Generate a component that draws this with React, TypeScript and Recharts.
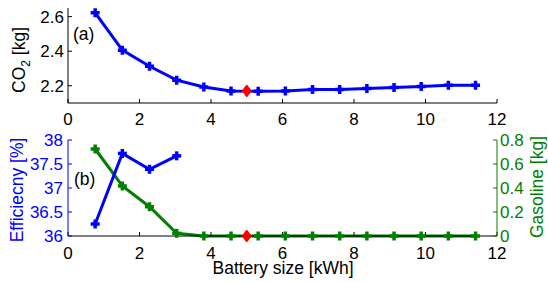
import React from 'react';
import { ComposedChart, Line, Scatter, XAxis, YAxis } from 'recharts';

const batterySize = [0.76, 1.52, 2.28, 3.04, 3.8, 4.56, 5.32, 6.08, 6.84, 7.6, 8.36, 9.12, 9.88, 10.64, 11.4];
const co2 = [2.622, 2.406, 2.313, 2.232, 2.193, 2.17, 2.168, 2.17, 2.178, 2.178, 2.184, 2.19, 2.195, 2.203, 2.203];
const efficiency: (number | null)[] = [36.25, 37.72, 37.39, 37.67, null, null, null, null, null, null, null, null, null, null, null];
const gasoline = [0.725, 0.417, 0.244, 0.022, 0, 0, 0, 0, 0, 0, 0, 0, 0, 0, 0];
const optimumX = [5.0];
const optimumCo2 = [2.17];
const optimumGas = [0];
const xTicks = [0, 2, 4, 6, 8, 10, 12];
const co2Ticks = [2.2, 2.4, 2.6];
const effTicks = [36, 36.5, 37, 37.5, 38];
const gasTicks = [0, 0.2, 0.4, 0.6, 0.8];

const topData = batterySize.map((x, i) => ({ x, co2: co2[i] }));
const bottomData = batterySize.map((x, i) => ({ x, eff: efficiency[i], gas: gasoline[i] }));
const topOpt = optimumX.map((x, i) => ({ x, co2: optimumCo2[i] }));
const bottomOpt = optimumX.map((x, i) => ({ x, gas: optimumGas[i] }));

const BLUE = '#0000FF';
const GREEN = '#008000';
const RED = '#FF0000';
const FONT = '"Liberation Sans", Arial, sans-serif';

const makePlus = (color: string) => (props: any) => {
  const { cx, cy, index, value } = props;
  if (cx == null || cy == null || value == null || (Array.isArray(value) && value[1] == null)) return <g key={`e${index}`} />;
  const h = 4.5;
  return (
    <g key={`p${index}`}>
      <line x1={cx - h} x2={cx + h} y1={cy} y2={cy} stroke={color} strokeWidth={3.5} />
      <line x1={cx} x2={cx} y1={cy - h} y2={cy + h} stroke={color} strokeWidth={3.5} />
    </g>
  );
};

const Diamond = (props: any) => {
  const { cx, cy } = props;
  if (cx == null || cy == null) return <g />;
  return <polygon points={`${cx},${cy - 6} ${cx + 4.5},${cy} ${cx},${cy + 6} ${cx - 4.5},${cy}`} fill={RED} stroke={RED} strokeWidth={1} />;
};

const tickStyle = { fontSize: 17, fontFamily: FONT };

export default function App() {
  return (
    <div style={{ position: 'absolute', left: 0, top: 0, width: 548, height: 282, background: '#fff' }}>
      <div style={{ position: 'absolute', left: 0, top: 0 }}>
        <ComposedChart width={548} height={130} data={topData} margin={{ top: 8, right: 51, bottom: 0, left: 0 }}>
          <XAxis
            dataKey="x"
            type="number"
            domain={[0, 12]}
            ticks={xTicks}
            height={27}
            tickSize={-4}
            tickMargin={14}
            tick={{ ...tickStyle, fill: '#000' }}
            axisLine={{ stroke: '#000' }}
            tickLine={{ stroke: '#000' }}
            interval={0}
          />
          <YAxis
            type="number"
            domain={[2.1, 2.65]}
            ticks={co2Ticks}
            width={68}
            tickSize={-4}
            tickMargin={8}
            tick={{ ...tickStyle, fill: '#000' }}
            axisLine={{ stroke: '#000' }}
            tickLine={{ stroke: '#000' }}
            tickFormatter={(v: number) => v.toFixed(1)}
            allowDataOverflow
            interval={0}
          />
          <Line dataKey="co2" stroke={BLUE} strokeWidth={3} dot={makePlus(BLUE)} isAnimationActive={false} />
          <Scatter data={topOpt} dataKey="co2" shape={Diamond} isAnimationActive={false} />
        </ComposedChart>
      </div>
      <div style={{ position: 'absolute', left: 0, top: 125 }}>
        <ComposedChart width={548} height={157} data={bottomData} margin={{ top: 15, right: 0, bottom: 0, left: 0 }}>
          <XAxis
            dataKey="x"
            type="number"
            domain={[0, 12]}
            ticks={xTicks}
            height={46}
            tickSize={-4}
            tickMargin={15}
            tick={{ ...tickStyle, fill: '#000' }}
            axisLine={{ stroke: '#000' }}
            tickLine={{ stroke: '#000' }}
            interval={0}
          />
          <YAxis
            yAxisId="l"
            orientation="left"
            type="number"
            domain={[36, 38]}
            ticks={effTicks}
            width={68}
            tickSize={-4}
            tickMargin={9}
            tick={{ ...tickStyle, fill: BLUE }}
            axisLine={{ stroke: BLUE }}
            tickLine={{ stroke: BLUE }}
            interval={0}
          />
          <YAxis
            yAxisId="r"
            orientation="right"
            type="number"
            domain={[0, 0.8]}
            ticks={gasTicks}
            width={51}
            tickSize={-4}
            tickMargin={7}
            tick={{ ...tickStyle, fill: GREEN }}
            axisLine={{ stroke: GREEN }}
            tickLine={{ stroke: GREEN }}
            interval={0}
          />
          <Line yAxisId="r" dataKey="gas" stroke={GREEN} strokeWidth={3} dot={makePlus(GREEN)} isAnimationActive={false} />
          <Line yAxisId="l" dataKey="eff" stroke={BLUE} strokeWidth={3} dot={makePlus(BLUE)} connectNulls={false} isAnimationActive={false} />
          <Scatter yAxisId="r" data={bottomOpt} dataKey="gas" shape={Diamond} isAnimationActive={false} />
        </ComposedChart>
      </div>
      <svg width={548} height={282} style={{ position: 'absolute', left: 0, top: 0, pointerEvents: 'none' }} fontFamily={FONT}>
        <text x={73} y={40} fontSize={17.5} fill="#000">(a)</text>
        <text x={74} y={185} fontSize={17.5} fill="#000">(b)</text>
        <text transform="translate(25,60) rotate(-90)" textAnchor="middle" fontSize={17.5} fill="#000">
          CO<tspan fontSize={12} dy={5}>2</tspan><tspan dy={-5}> [kg]</tspan>
        </text>
        <text transform="translate(23,190) rotate(-90)" textAnchor="middle" fontSize={17.5} fill={BLUE}>Efficiecny [%]</text>
        <text transform="translate(543,187) rotate(-90)" textAnchor="middle" fontSize={17.5} fill={GREEN}>Gasoline [kg]</text>
        <text x={283} y={274} textAnchor="middle" fontSize={17.5} fill="#000">Battery size [kWh]</text>
      </svg>
    </div>
  );
}
